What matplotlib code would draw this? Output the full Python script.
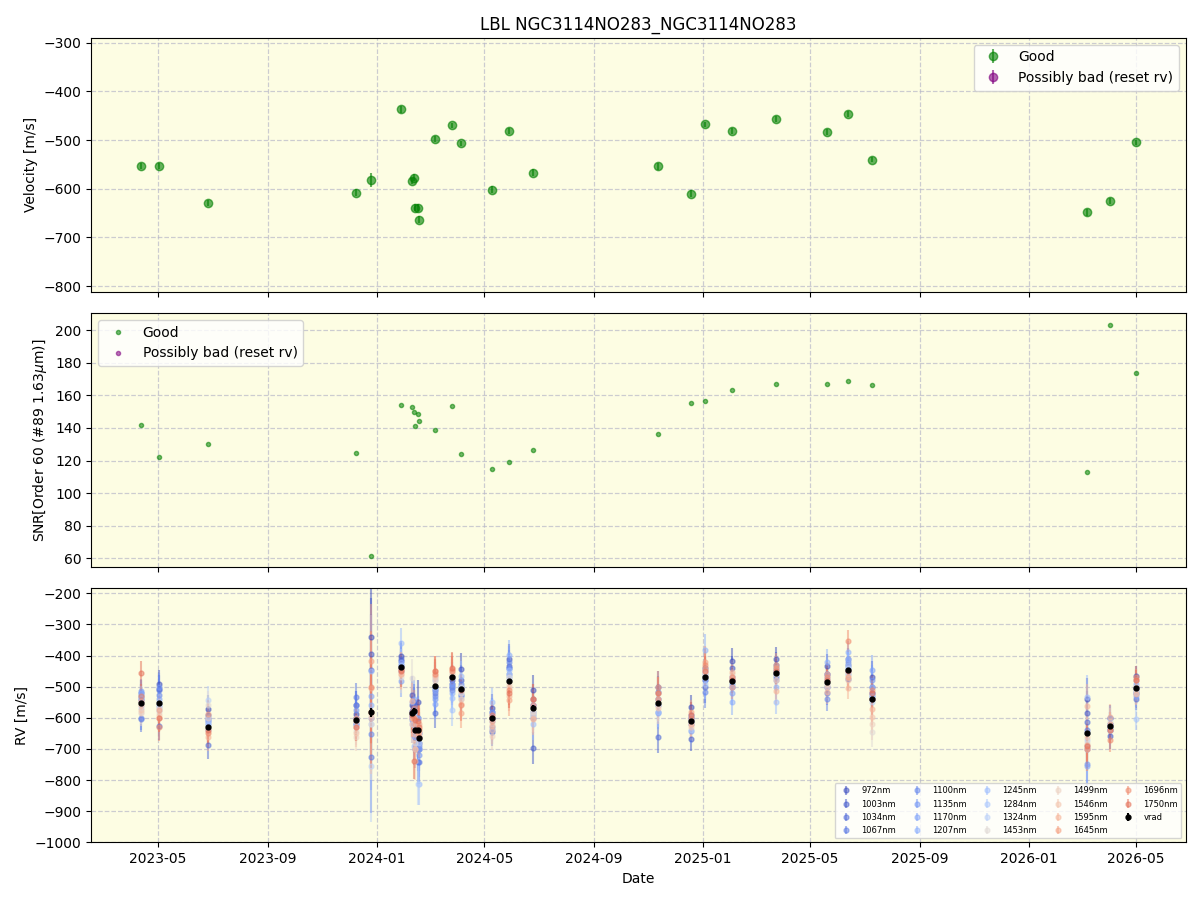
import matplotlib
matplotlib.use("Agg")
import matplotlib.pyplot as plt
import matplotlib.dates as mdates
import numpy as np
import pandas as pd

dates = ["2023-04-12", "2023-05-02", "2023-06-26", "2023-12-09", "2023-12-26",
         "2024-01-28", "2024-02-10", "2024-02-12", "2024-02-13", "2024-02-17",
         "2024-02-18", "2024-03-07", "2024-03-26", "2024-04-05", "2024-05-09",
         "2024-05-29", "2024-06-24", "2024-11-11", "2024-12-18", "2025-01-03",
         "2025-02-02", "2025-03-24", "2025-05-20", "2025-06-12", "2025-07-09",
         "2026-03-07", "2026-04-02", "2026-05-01"]

velocity = [-553, -553, -629, -608, -582, -437, -584, -577, -639, -639, -664, -498,
            -470, -507, -602, -482, -567, -554, -610, -468, -482, -456, -484, -447,
            -540, -648, -626, -505]
velocity_err = [6, 6, 6, 7, 15, 7, 7, 7, 7, 7, 7, 6, 6, 6, 7, 6, 7, 7, 7, 6, 6, 6,
                6, 6, 6, 7, 6, 6]

snr = [142.0, 122.4, 130.0, 124.9, 61.6, 154.3, 153.1, 150.0, 141.4, 148.8, 144.5,
       139.0, 153.7, 124.3, 115.1, 119.4, 126.7, 136.6, 155.6, 156.4, 163.6, 167.3,
       167.3, 169.1, 166.1, 113.2, 203.5, 174.0]

wavelengths = [972, 1003, 1034, 1067, 1100, 1135, 1170, 1207, 1245, 1284, 1324,
               1453, 1499, 1546, 1595, 1645, 1696, 1750]

rv_972 = [-530, -490, -573, -587, -339, -402, -560, -570, -640, -549, -680, -510, -480, -442, -568, -412, -512, -500, -566, -440, -416, -412, -434, -430, -469, -541, -600, -467]
rv_1003 = [-540, -506, -590, -560, -394, -417, -526, -560, -660, -600, -700, -500, -490, -480, -580, -432, -697, -517, -668, -480, -440, -430, -460, -410, -500, -584, -659, -520]
rv_1034 = [-520, -625, -687, -620, -448, -410, -578, -550, -620, -640, -650, -584, -501, -528, -644, -440, -540, -663, -600, -501, -480, -450, -500, -476, -520, -614, -640, -539]
rv_1067 = [-605, -512, -610, -532, -726, -430, -590, -600, -650, -743, -743, -520, -510, -500, -600, -460, -600, -539, -590, -470, -500, -470, -520, -450, -540, -640, -620, -510]
rv_1100 = [-600, -526, -600, -560, -653, -440, -600, -620, -700, -700, -690, -530, -470, -490, -640, -420, -590, -560, -610, -517, -470, -460, -539, -420, -530, -700, -630, -500]
rv_1135 = [-515, -500, -620, -575, -600, -450, -580, -580, -630, -660, -720, -539, -500, -510, -630, -440, -560, -580, -641, -450, -490, -440, -480, -440, -480, -748, -640, -520]
rv_1170 = [-545, -540, -603, -600, -529, -482, -606, -540, -640, -680, -700, -555, -490, -530, -580, -470, -580, -585, -620, -480, -520, -480, -460, -460, -447, -754, -601, -530]
rv_1207 = [-520, -560, -640, -620, -560, -420, -550, -600, -620, -640, -660, -510, -520, -500, -610, -399, -560, -540, -600, -381, -550, -500, -420, -388, -520, -690, -620, -490]
rv_1245 = [-535, -565, -610, -600, -450, -361, -620, -692, -650, -600, -811, -480, -535, -466, -549, -447, -621, -560, -620, -460, -500, -549, -470, -410, -500, -533, -630, -480]
rv_1284 = [-560, -576, -620, -615, -619, -430, -600, -590, -660, -620, -650, -500, -576, -520, -590, -460, -580, -580, -640, -490, -480, -460, -500, -430, -530, -650, -640, -605]
rv_1324 = [-570, -550, -544, -630, -754, -440, -590, -580, -640, -811, -680, -470, -470, -540, -600, -480, -560, -520, -598, -460, -470, -450, -490, -440, -550, -670, -620, -500]
rv_1453 = [-580, -580, -560, -641, -620, -470, -471, -600, -680, -640, -660, -490, -460, -500, -620, -470, -590, -540, -610, -470, -460, -440, -480, -460, -644, -680, -610, -520]
rv_1499 = [-585, -570, -600, -660, -590, -450, -600, -640, -700, -650, -640, -480, -460, -520, -657, -490, -580, -560, -620, -460, -480, -460, -490, -470, -620, -700, -630, -510]
rv_1546 = [-575, -590, -646, -650, -600, -460, -620, -600, -740, -640, -650, -470, -450, -540, -640, -500, -600, -570, -630, -450, -470, -480, -500, -480, -598, -660, -640, -500]
rv_1595 = [-560, -600, -662, -628, -503, -458, -547, -652, -700, -620, -620, -463, -470, -557, -625, -529, -605, -520, -620, -440, -453, -515, -516, -504, -573, -562, -596, -525]
rv_1645 = [-545, -575, -587, -610, -416, -440, -600, -570, -620, -650, -640, -450, -443, -583, -610, -544, -541, -500, -582, -420, -501, -431, -460, -470, -540, -686, -620, -477]
rv_1696 = [-530, -630, -650, -600, -500, -445, -580, -600, -640, -640, -660, -460, -450, -560, -600, -510, -560, -540, -600, -430, -470, -440, -470, -354, -512, -700, -671, -470]
rv_1750 = [-457, -600, -640, -628, -580, -450, -590, -738, -608, -610, -630, -450, -440, -510, -590, -520, -540, -520, -590, -450, -480, -450, -480, -450, -520, -690, -640, -480]

rv_err = [40, 45, 45, 45, 180, 50, 60, 60, 60, 70, 70, 50, 50, 50, 45, 50, 50, 50,
          40, 50, 40, 40, 40, 35, 50, 70, 40, 35]

rv_lists = [rv_972, rv_1003, rv_1034, rv_1067, rv_1100, rv_1135, rv_1170, rv_1207,
            rv_1245, rv_1284, rv_1324, rv_1453, rv_1499, rv_1546, rv_1595, rv_1645,
            rv_1696, rv_1750]

t = pd.to_datetime(dates)
bg = "#fdfde3"

fig, axes = plt.subplots(3, 1, figsize=(12, 9), dpi=100, sharex=True)
fig.subplots_adjust(left=0.076, right=0.988, top=0.958, bottom=0.064, hspace=0.083)

for ax in axes:
    ax.set_facecolor(bg)
    ax.grid(True, linestyle="--", color="#b8b8c8", alpha=0.7, linewidth=0.9)
    ax.set_axisbelow(True)

# Top panel
ax = axes[0]
ax.errorbar(t, velocity, yerr=velocity_err, fmt="o", color="green", alpha=0.6,
            label="Good")
ax.errorbar([], [], yerr=[], fmt="o", color="purple", alpha=0.6,
            label="Possibly bad (reset rv)")
ax.set_ylim(-812, -290)
ax.set_ylabel("Velocity [m/s]")
ax.set_title("LBL NGC3114NO283_NGC3114NO283")
ax.legend(loc="upper right")

# Middle panel
ax = axes[1]
ax.plot(t, snr, "o", color="green", alpha=0.55, markersize=3, label="Good")
ax.plot([], [], "o", color="purple", alpha=0.55, markersize=3,
        label="Possibly bad (reset rv)")
ax.set_ylabel(r"SNR[Order 60 (#89 1.63$\mu$m)]")
ax.legend(loc="upper left")

# Bottom panel
ax = axes[2]
cmap = plt.get_cmap("coolwarm")
wmin, wmax = min(wavelengths), max(wavelengths)
for w, rv in zip(wavelengths, rv_lists):
    c = cmap(0.84 * (w - wmin) / (wmax - wmin))
    ax.errorbar(t, rv, yerr=rv_err, fmt="o", color=c, alpha=0.5, markersize=3.5,
                label=f"{w}nm")
ax.errorbar(t, velocity, yerr=velocity_err, fmt="o", color="black", markersize=3.5,
            label="vrad", zorder=5)
ax.set_ylim(-1000, -184)
ax.set_ylabel("RV [m/s]")
ax.set_xlabel("Date")
ax.legend(loc="lower right", ncol=5, fontsize=6, columnspacing=1.5)

ax.xaxis.set_major_locator(mdates.MonthLocator(bymonth=[1, 5, 9]))
ax.xaxis.set_major_formatter(mdates.DateFormatter("%Y-%m"))

fig.savefig("out.png", dpi=100)
